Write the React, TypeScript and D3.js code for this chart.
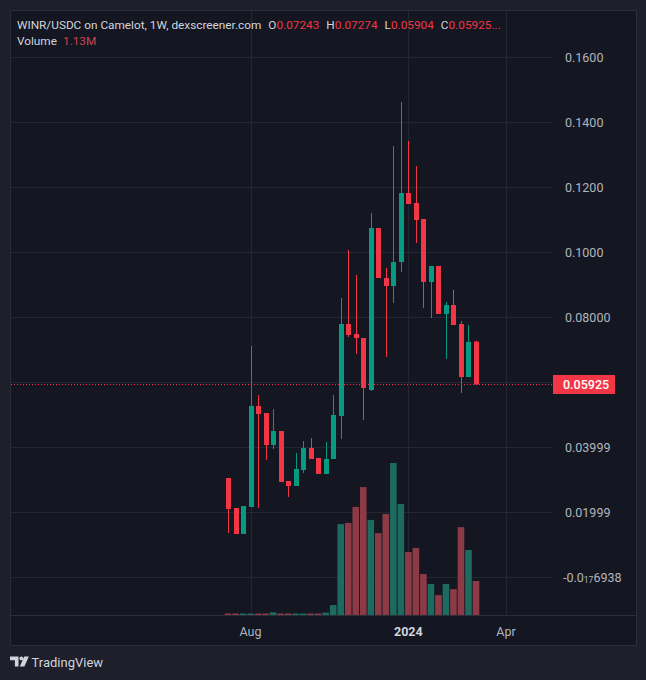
import { useEffect, useRef } from "react"
import * as d3 from "d3"

// weekly candles, first bar starts on this Monday
const firstWeek = "2023-07-17"

const opens = [
  0.03046, 0.02123, 0.01323, 0.02154, 0.05262, 0.05046, 0.04062, 0.04492, 0.02954, 0.028, 0.03292, 0.03969,
  0.03662, 0.03169, 0.03631, 0.04954, 0.07785, 0.07477, 0.07354, 0.05754, 0.10738, 0.092, 0.08954, 0.09692,
  0.11815, 0.11508, 0.11015, 0.09077, 0.09569, 0.08092, 0.08369, 0.07785, 0.06154, 0.07243,
]
const highs = [
  0.03046, 0.02123, 0.02185, 0.07108, 0.056, 0.05046, 0.05169, 0.04492, 0.02954, 0.03815, 0.04185, 0.04277,
  0.03662, 0.04154, 0.056, 0.08585, 0.10062, 0.09292, 0.07354, 0.112, 0.10738, 0.09508, 0.13262, 0.14615,
  0.13415, 0.12646, 0.11015, 0.09569, 0.09569, 0.08462, 0.08831, 0.07877, 0.07754, 0.07274,
]
const lows = [
  0.01354, 0.01323, 0.01323, 0.02154, 0.02123, 0.036, 0.03938, 0.02923, 0.02462, 0.028, 0.032, 0.03631,
  0.03169, 0.03169, 0.03631, 0.04246, 0.07385, 0.06862, 0.04831, 0.05723, 0.092, 0.06769, 0.08431, 0.09385,
  0.11477, 0.10277, 0.08277, 0.07969, 0.08092, 0.06708, 0.07754, 0.05662, 0.06154, 0.05904,
]
const closes = [
  0.02092, 0.01323, 0.02185, 0.05262, 0.05015, 0.04062, 0.04492, 0.02923, 0.028, 0.03323, 0.03969, 0.03631,
  0.03169, 0.03631, 0.04985, 0.07785, 0.07446, 0.07354, 0.05815, 0.10738, 0.092, 0.08954, 0.09692, 0.11815,
  0.11477, 0.10985, 0.09077, 0.09569, 0.08092, 0.08369, 0.07754, 0.06154, 0.07231, 0.05925,
]
// volume in millions
const volumes = [
  0.05, 0.05, 0.05, 0.05, 0.05, 0.05, 0.09, 0.05, 0.05, 0.05, 0.05, 0.05, 0.05, 0.08, 0.33, 3.02, 3.06, 3.59,
  4.25, 3.16, 2.72, 3.36, 5.05, 3.69, 2.09, 2.23, 1.36, 1.03, 0.66, 1.03, 0.86, 2.92, 2.16, 1.13,
]

const priceTicks = [0.16, 0.14, 0.12, 0.1, 0.08, 0.06, 0.04, 0.02, 0]
const priceTickLabels = ["0.1600", "0.1400", "0.1200", "0.1000", "0.08000", "", "0.03999", "0.01999", "-0.0₁₇6938"]

const timeTicks = ["2023-08-07", "2024-01-01", "2024-04-01"]
const timeTickLabels = ["Aug", "2024", "Apr"]

const W = 646
const H = 680
const FONT = "Roboto, 'Noto Sans', sans-serif"
const UP = "#089981"
const DOWN = "#f23645"
const UP_VOL = "#1d6a5e"
const DOWN_VOL = "#8c3a46"

const subDigits = "₀₁₂₃₄₅₆₇₈₉"

const App = () => {
  const svgRef = useRef<SVGSVGElement | null>(null)

  useEffect(() => {
    if (!svgRef.current) return
    document.body.style.margin = "0"

    const svg = d3.select(svgRef.current)
    svg.selectAll("*").remove()

    const pane = { left: 10, top: 10, right: 636, bottom: 645, axisY: 615, plotRight: 553 }

    const start = new Date(firstWeek + "T00:00:00Z")
    const dates = closes.map((_, i) => d3.utcWeek.offset(start, i))
    const n = closes.length

    const x = d3
      .scaleUtc()
      .domain([dates[0], dates[n - 1]])
      .range([228, 476])
    const y = d3.scaleLinear().domain([0, 0.16]).range([577, 57])
    const yVol = d3
      .scaleLinear()
      .domain([0, d3.max(volumes) as number])
      .range([pane.axisY, 463])

    // backgrounds
    svg.append("rect").attr("width", W).attr("height", H).attr("fill", "#1e1f2a")
    svg
      .append("rect")
      .attr("x", pane.left + 0.5)
      .attr("y", pane.top + 0.5)
      .attr("width", pane.right - pane.left)
      .attr("height", pane.bottom - pane.top)
      .attr("fill", "#141722")
      .attr("stroke", "#2a2e39")

    // grid
    const grid = svg.append("g").attr("stroke", "#232732").attr("stroke-width", 1)
    priceTicks.forEach((t) => {
      const yy = Math.round(y(t)) + 0.5
      grid.append("line").attr("x1", pane.left + 1).attr("x2", pane.plotRight).attr("y1", yy).attr("y2", yy)
    })
    timeTicks.forEach((t) => {
      const xx = Math.round(x(new Date(t + "T00:00:00Z"))) + 0.5
      grid.append("line").attr("x1", xx).attr("x2", xx).attr("y1", pane.top + 1).attr("y2", pane.axisY)
    })

    // volume bars
    svg
      .append("g")
      .selectAll("rect")
      .data(volumes)
      .join("rect")
      .attr("x", (_, i) => x(dates[i]) - 3.3)
      .attr("width", 6.6)
      .attr("y", (d) => yVol(d))
      .attr("height", (d) => Math.max(1, pane.axisY - yVol(d)))
      .attr("fill", (_, i) => (closes[i] >= opens[i] ? UP_VOL : DOWN_VOL))

    // candles
    const candles = svg
      .append("g")
      .selectAll("g")
      .data(d3.range(n))
      .join("g")
      .attr("fill", (i) => (closes[i] >= opens[i] ? UP : DOWN))
      .attr("stroke", (i) => (closes[i] >= opens[i] ? UP : DOWN))

    candles
      .append("line")
      .attr("x1", (i) => Math.round(x(dates[i])) + 0.5)
      .attr("x2", (i) => Math.round(x(dates[i])) + 0.5)
      .attr("y1", (i) => y(highs[i]))
      .attr("y2", (i) => y(lows[i]))
      .attr("stroke-width", 1)

    candles
      .append("rect")
      .attr("stroke", "none")
      .attr("x", (i) => Math.round(x(dates[i])) - 2)
      .attr("width", 5)
      .attr("y", (i) => y(Math.max(opens[i], closes[i])))
      .attr("height", (i) => Math.max(1, Math.abs(y(opens[i]) - y(closes[i]))))

    // last price line
    const last = closes[n - 1]
    const yLast = Math.round(y(last)) + 0.5
    svg
      .append("line")
      .attr("x1", pane.left + 1)
      .attr("x2", pane.plotRight)
      .attr("y1", yLast)
      .attr("y2", yLast)
      .attr("stroke", DOWN)
      .attr("stroke-dasharray", "1 2")

    // time axis separator
    svg
      .append("line")
      .attr("x1", pane.left + 1)
      .attr("x2", pane.right)
      .attr("y1", pane.axisY + 0.5)
      .attr("y2", pane.axisY + 0.5)
      .attr("stroke", "#2a2e39")

    // price axis labels
    const pAxis = svg
      .append("g")
      .attr("font-family", FONT)
      .attr("font-size", 12.5)
      .attr("fill", "#b2b5be")
    priceTicks.forEach((t, i) => {
      const label = priceTickLabels[i]
      if (!label) return
      const txt = pAxis
        .append("text")
        .attr("x", label.startsWith("-") ? 563 : 565)
        .attr("y", y(t) + 4.5)
      let shift = 0
      label.split(/([₀-₉]+)/).forEach((p) => {
        if (!p) return
        if (subDigits.includes(p[0])) {
          const digits = Array.from(p)
            .map((c) => subDigits.indexOf(c))
            .join("")
          txt.append("tspan").attr("font-size", 8.5).attr("dy", 1.5).text(digits)
          shift = -1.5
        } else {
          const ts = txt.append("tspan").text(p)
          if (shift) ts.attr("dy", shift)
          shift = 0
        }
      })
    })

    // last price tag
    svg
      .append("rect")
      .attr("x", 553)
      .attr("y", yLast - 9.5)
      .attr("width", 62)
      .attr("height", 19)
      .attr("fill", DOWN)
    svg
      .append("text")
      .attr("x", 563)
      .attr("y", yLast + 4.5)
      .attr("font-family", FONT)
      .attr("font-size", 12.5)
      .attr("font-weight", 500)
      .attr("fill", "#ffffff")
      .text(last.toFixed(5))

    // time axis labels
    timeTicks.forEach((t, i) => {
      svg
        .append("text")
        .attr("x", x(new Date(t + "T00:00:00Z")))
        .attr("y", 635.5)
        .attr("text-anchor", "middle")
        .attr("font-family", FONT)
        .attr("font-size", 12.5)
        .attr("font-weight", timeTickLabels[i] === "2024" ? 700 : 400)
        .attr("fill", timeTickLabels[i] === "2024" ? "#d1d4dc" : "#b2b5be")
        .text(timeTickLabels[i])
    })

    // legend header, laid out left to right
    const head = svg.append("g").attr("font-family", FONT).attr("font-size", 11.8)
    const title = head
      .append("text")
      .attr("x", 17)
      .attr("y", 28.5)
      .attr("fill", "#d1d4dc")
      .text("WINR/USDC on Camelot, 1W, dexscreener.com")
    let cursor = 17 + (title.node() as SVGTextElement).getComputedTextLength() + 7
    const ohlc: [string, number][] = [
      ["O", opens[n - 1]],
      ["H", highs[n - 1]],
      ["L", lows[n - 1]],
      ["C", last],
    ]
    ohlc.forEach(([k, v], i) => {
      const t = head.append("text").attr("x", cursor).attr("y", 28.5).attr("fill", "#d1d4dc")
      t.append("tspan").text(k)
      t.append("tspan")
        .attr("fill", DOWN)
        .text(v.toFixed(5) + (i === 3 ? "..." : ""))
      cursor += (t.node() as SVGTextElement).getComputedTextLength() + 7
    })
    head.append("text").attr("x", 17).attr("y", 45).attr("fill", "#d1d4dc").text("Volume")
    head
      .append("text")
      .attr("x", 63)
      .attr("y", 45)
      .attr("fill", "#c9444f")
      .text(volumes[n - 1].toFixed(2) + "M")

    // TradingView logo
    const logo = svg.append("g").attr("fill", "#d1d4dc")
    logo.append("path").attr("d", "M10 656.5h8.5v10h-3.6v-6.3h-4.9z")
    logo.append("circle").attr("cx", 21.3).attr("cy", 658.4).attr("r", 1.9)
    logo.append("path").attr("d", "M24.2 656.5h4.6l-4.4 10h-4.6z")
    logo
      .append("text")
      .attr("x", 31.5)
      .attr("y", 666.5)
      .attr("font-family", FONT)
      .attr("font-size", 13)
      .attr("fill", "#d1d4dc")
      .text("TradingView")
  }, [])

  return (
    <div style={{ width: W, height: H }}>
      <svg ref={svgRef} width={W} height={H} style={{ display: "block", position: "absolute", left: 0, top: 0 }} />
    </div>
  )
}

export default App
